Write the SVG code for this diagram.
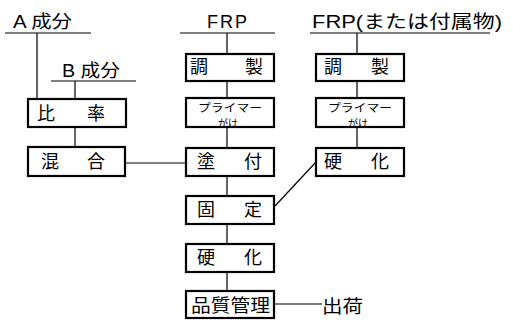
<svg xmlns="http://www.w3.org/2000/svg" width="513" height="320" viewBox="0 0 513 320">
<style>
.box{fill:#fff;stroke:#000;stroke-width:2.2}
.ln{fill:none;stroke:#000;stroke-width:1.2}
.t{font-family:"Liberation Sans","Noto Sans CJK JP",sans-serif;font-size:18px;fill:#000}
.j{font-family:"Noto Sans CJK JP",sans-serif;font-size:18px;fill:#000}
.s{font-family:"Noto Sans CJK JP",sans-serif;font-size:11px;fill:#000}
.s2{font-family:"Noto Sans CJK JP",sans-serif;font-size:10px;fill:#000}
</style>
<rect width="513" height="320" fill="#fff"/>
<g id="connectors" class="ln">
<path d="M5,33 H91 M37,33 V99"/>
<path d="M51,81 H136 M75,81 V99"/>
<path d="M75,127 V147"/>
<path d="M125,163 H186"/>
<path d="M180,33 H275 M227,33 V54 M227,81 V98 M227,127 V148 M227,176 V196 M227,224 V244 M227,272 V291"/>
<path d="M274,304 H322"/>
<path d="M310,33 H490 M357,33 V54 M357,81 V98 M357,127 V148"/>
<path d="M275,206 L316,162"/>
</g>
<g id="a-component"><text class="t" x="13" y="28" textLength="59" lengthAdjust="spacingAndGlyphs">A 成分</text></g>
<g id="b-component"><text class="t" x="62" y="77" textLength="58" lengthAdjust="spacingAndGlyphs">B 成分</text></g>
<g id="frp-main"><text class="t" x="207" y="28" textLength="40" lengthAdjust="spacing">FRP</text></g>
<g id="frp-attach"><text class="t" x="312" y="28" textLength="190" lengthAdjust="spacingAndGlyphs">FRP(または付属物)</text></g>
<g id="ratio"><rect class="box" x="28" y="99" width="98" height="28"/><text class="j" x="37 87" y="120">比率</text></g>
<g id="mix"><rect class="box" x="28" y="147" width="97" height="29"/><text class="j" x="41 87" y="168">混合</text></g>
<g id="prep1"><rect class="box" x="186" y="54" width="88" height="27"/><text class="j" x="190 245" y="73">調製</text></g>
<g id="primer1"><rect class="box" x="186" y="98" width="88" height="29"/><text class="s" x="198" y="112" textLength="64" lengthAdjust="spacingAndGlyphs">プライマー</text><text class="s2" x="218" y="127" textLength="20" lengthAdjust="spacingAndGlyphs">がけ</text></g>
<g id="coat"><rect class="box" x="186" y="148" width="88" height="28"/><text class="j" x="197 244" y="168">塗付</text></g>
<g id="fix"><rect class="box" x="186" y="196" width="88" height="28"/><text class="j" x="197 244" y="216">固定</text></g>
<g id="cure1"><rect class="box" x="186" y="244" width="88" height="28"/><text class="j" x="197 244" y="264">硬化</text></g>
<g id="qc"><rect class="box" x="186" y="291" width="88" height="27"/><text class="j" x="191" y="312" textLength="79" lengthAdjust="spacingAndGlyphs">品質管理</text></g>
<g id="ship"><text class="j" x="322" y="313" textLength="41" lengthAdjust="spacingAndGlyphs">出荷</text></g>
<g id="prep2"><rect class="box" x="316" y="54" width="88" height="27"/><text class="j" x="324 371" y="73">調製</text></g>
<g id="primer2"><rect class="box" x="316" y="98" width="88" height="29"/><text class="s" x="328" y="112" textLength="64" lengthAdjust="spacingAndGlyphs">プライマー</text><text class="s2" x="348" y="127" textLength="20" lengthAdjust="spacingAndGlyphs">がけ</text></g>
<g id="cure2"><rect class="box" x="316" y="148" width="88" height="28"/><text class="j" x="324 371" y="168">硬化</text></g>
</svg>
